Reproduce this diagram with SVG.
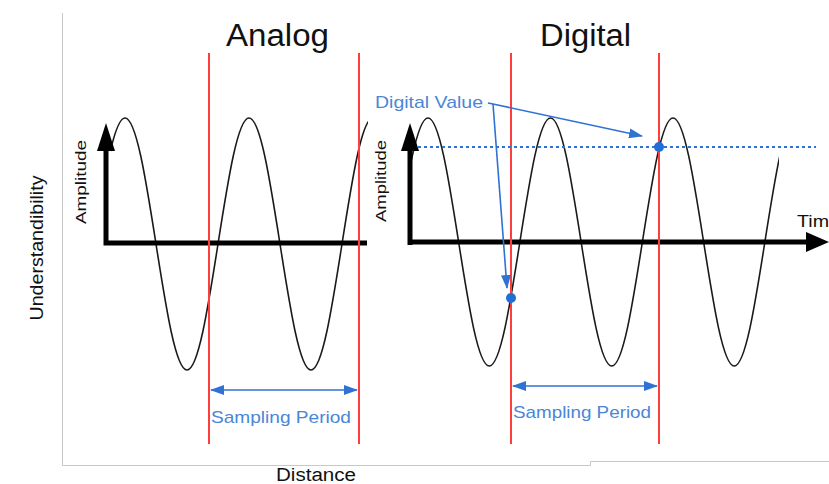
<svg xmlns="http://www.w3.org/2000/svg" width="829" height="484" viewBox="0 0 829 484">
<style>
.title{font-family:"Liberation Sans",Arial,sans-serif;font-size:31px;fill:#111}
.lbl{font-family:"Liberation Sans",Arial,sans-serif;fill:#111}
.blue{font-family:"Liberation Sans",Arial,sans-serif;font-size:17px;fill:#4a86d8}
.wave{fill:none;stroke:#1a1a1a;stroke-width:1.6}
.axis{stroke:#000;stroke-width:5;fill:none}
.red{stroke:#ff3d3d;stroke-width:2}
.conn{stroke:#2f72d4;stroke-width:1.6;fill:none}
.frame{stroke:#c8c8c8;stroke-width:1;fill:none}
</style>
<defs>
<marker id="bh" markerUnits="userSpaceOnUse" markerWidth="14" markerHeight="10" refX="13" refY="5" orient="auto-start-reverse" viewBox="0 0 14 10">
<path d="M0,0 L14,5 L0,10 Z" fill="#2f72d4"/>
</marker>
<clipPath id="clipL"><rect x="111" y="0" width="257" height="484"/></clipPath>
<clipPath id="clipR"><rect x="411" y="0" width="368" height="484"/></clipPath>
</defs>
<rect width="829" height="484" fill="#fff"/>
<g id="frame">
<path class="frame" d="M62.5,13 V465.5 H590.5 V461.5 H829"/>
</g>
<g id="y-label"><text class="lbl" font-size="18" transform="translate(43,248) rotate(-90)" text-anchor="middle" textLength="145" lengthAdjust="spacingAndGlyphs">Understandibility</text></g>
<g id="x-label"><text class="lbl" font-size="18" x="316" y="481" text-anchor="middle" textLength="80" lengthAdjust="spacingAndGlyphs">Distance</text></g>
<g id="analog">
<text class="title" x="277.5" y="46" text-anchor="middle" textLength="103" lengthAdjust="spacingAndGlyphs">Analog</text>
<path class="wave" clip-path="url(#clipL)" d="M94,244 C104.11,179.45 113.78,118 125,118 C136.22,118 145.89,179.45 156,244 C166.11,308.55 175.78,370 187,370 C198.22,370 207.89,308.55 218,244 C228.11,179.45 237.78,118 249,118 C260.22,118 269.89,179.45 280,244 C290.11,308.55 299.78,370 311,370 C322.22,370 331.89,308.55 342,244 C352.11,179.45 361.78,118 373,118"/>
<path class="axis" d="M106,245 V148 M103.5,243 H367"/>
<path d="M106,123 L115,151 L97,151 Z" fill="#000"/>
<text class="lbl" font-size="15" transform="translate(86,182) rotate(-90)" text-anchor="middle" textLength="84" lengthAdjust="spacingAndGlyphs">Amplitude</text>
<line class="red" x1="209" y1="53" x2="209" y2="444"/>
<line class="red" x1="359" y1="53" x2="359" y2="444"/>
<text class="blue" x="281" y="423" text-anchor="middle" textLength="140" lengthAdjust="spacingAndGlyphs">Sampling Period</text>
</g>
<g id="digital">
<text class="title" x="585.5" y="46" text-anchor="middle" textLength="91" lengthAdjust="spacingAndGlyphs">Digital</text>
<path class="wave" clip-path="url(#clipR)" d="M397.375,242 C407.365,178.48 416.91,118 428,118 C439.09,118 448.635,178.48 458.625,242 C468.615,305.52 478.16,366 489.25,366 C500.34,366 509.885,305.52 519.875,242 C529.865,178.48 539.41,118 550.5,118 C561.59,118 571.135,178.48 581.125,242 C591.115,305.52 600.66,366 611.75,366 C622.84,366 632.385,305.52 642.375,242 C652.365,178.48 661.91,118 673,118 C684.09,118 693.635,178.48 703.625,242 C713.615,305.52 723.16,366 734.25,366 C745.34,366 754.885,305.52 764.875,242 C774.865,178.48 784.41,118 795.5,118"/>
<path class="axis" d="M410,245 V148 M407.5,242 H808"/>
<path d="M410,123 L419,151 L401,151 Z" fill="#000"/>
<path d="M829,242 L806,232 L806,252 Z" fill="#000"/>
<text class="lbl" font-size="15" transform="translate(386,181) rotate(-90)" text-anchor="middle" textLength="82" lengthAdjust="spacingAndGlyphs">Amplitude</text>
<text class="lbl" font-size="17" x="797" y="227" textLength="32" lengthAdjust="spacingAndGlyphs">Tim</text>
<line class="red" x1="511" y1="53" x2="511" y2="444"/>
<line class="red" x1="659" y1="53" x2="659" y2="444"/>
<line x1="418" y1="147" x2="816" y2="147" stroke="#2f72d4" stroke-width="2" stroke-dasharray="3,3"/>
<circle cx="511" cy="298" r="5" fill="#1f6fd6"/>
<circle cx="659" cy="147" r="5" fill="#1f6fd6"/>
<text class="blue" x="375" y="108" textLength="108" lengthAdjust="spacingAndGlyphs">Digital Value</text>
<text class="blue" x="582" y="418" text-anchor="middle" textLength="138" lengthAdjust="spacingAndGlyphs">Sampling Period</text>
</g>
<g id="connectors">
<path class="conn" d="M488,103 L493,104 L642,136" marker-end="url(#bh)"/>
<path class="conn" d="M493,104 L507,288" marker-end="url(#bh)"/>
<line class="conn" x1="211" y1="390" x2="357" y2="390" marker-start="url(#bh)" marker-end="url(#bh)"/>
<line class="conn" x1="513" y1="386" x2="657" y2="386" marker-start="url(#bh)" marker-end="url(#bh)"/>
</g>
</svg>
